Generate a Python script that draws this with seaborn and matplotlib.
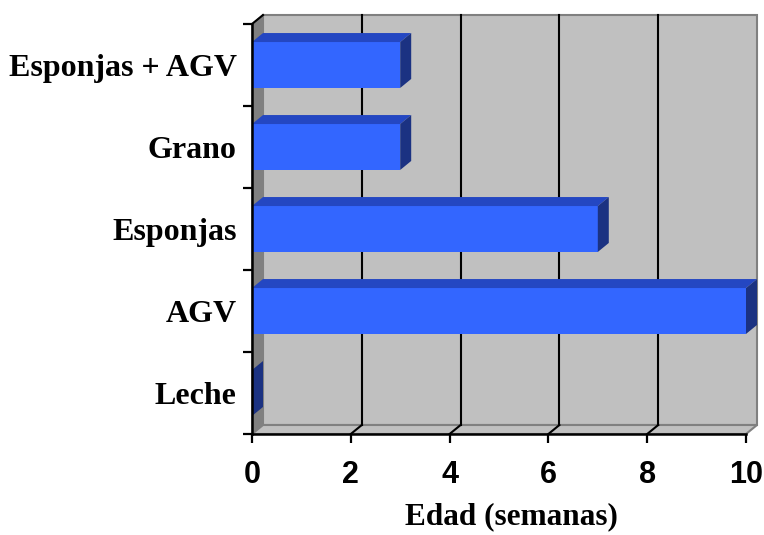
import pandas as pd
import matplotlib
matplotlib.use("Agg")
import matplotlib.pyplot as plt
from matplotlib.patches import Polygon
import seaborn as sns

# data (top to bottom as in the chart)
categories = ["Esponjas + AGV", "Grano", "Esponjas", "AGV", "Leche"]
semanas = [3, 3, 7, 10, 0]
x_ticks = [0, 2, 4, 6, 8, 10]

df = pd.DataFrame({"Alimento": categories, "Edad": semanas})

# colours of the pseudo 3D look
front_col = "#3366ff"
top_col = "#2447c2"
side_col = "#1b3282"
wall_col = "#c0c0c0"
left_wall_col = "#808080"
edge_col = "#808080"

fig = plt.figure(figsize=(7.64, 5.35), dpi=100)
W, H = 764, 535
ax_l, ax_r, ax_t, ax_b = 252, 746, 24, 434  # pixels of the front plane
ax = fig.add_axes([ax_l / W, (H - ax_b) / H, (ax_r - ax_l) / W, (ax_b - ax_t) / H])

sns.barplot(data=df, x="Edad", y="Alimento", orient="h", order=categories,
            color=front_col, saturation=1, width=0.56, ax=ax, zorder=5)

ax.set_xlim(0, 10)
ax.set_ylim(4.5, -0.5)
ax.patch.set_visible(False)

# depth offset of the back plane (11 px right, 9 px up) in data units
dx = 11 / ((ax_r - ax_l) / 10)
dy = 9 / ((ax_b - ax_t) / 5)
ymin, ymax = -0.5, 4.5

# back wall, left wall, floor
ax.add_patch(Polygon([(dx, ymin - dy), (10 + dx, ymin - dy), (10 + dx, ymax - dy), (dx, ymax - dy)],
                     closed=True, facecolor=wall_col, edgecolor=edge_col, lw=1.5, zorder=0.1, clip_on=False))
ax.add_patch(Polygon([(0, ymin), (dx, ymin - dy), (dx, ymax - dy), (0, ymax)],
                     closed=True, facecolor=left_wall_col, edgecolor=edge_col, lw=1, zorder=0.2, clip_on=False))
ax.add_patch(Polygon([(0, ymax), (10, ymax), (10 + dx, ymax - dy), (dx, ymax - dy)],
                     closed=True, facecolor=wall_col, edgecolor=edge_col, lw=1.5, zorder=0.2, clip_on=False))
ax.plot([0, dx], [ymin, ymin - dy], color="black", lw=1.5, zorder=0.4, clip_on=False)

# gridlines on the back wall and across the floor
for v in x_ticks[1:-1]:
    ax.plot([v + dx, v + dx], [ymax - dy, ymin - dy], color="black", lw=1.5, zorder=0.3, clip_on=False)
    ax.plot([v, v + dx], [ymax, ymax - dy], color="black", lw=1.5, zorder=0.3, clip_on=False)

# top and side faces of each bar
for p in list(ax.patches):
    if not hasattr(p, "get_width") or p.get_facecolor()[:3] != matplotlib.colors.to_rgb(front_col):
        continue
    x0, w, y0, h = p.get_x(), p.get_width(), p.get_y(), p.get_height()
    x1, y1 = x0 + w, y0 + h
    ax.add_patch(Polygon([(x0, y0), (x1, y0), (x1 + dx, y0 - dy), (x0 + dx, y0 - dy)],
                         closed=True, facecolor=top_col, edgecolor="none", zorder=5, clip_on=False))
    ax.add_patch(Polygon([(x1, y0), (x1, y1), (x1 + dx, y1 - dy), (x1 + dx, y0 - dy)],
                         closed=True, facecolor=side_col, edgecolor="none", zorder=5, clip_on=False))

# axes and ticks
for s in ["top", "right"]:
    ax.spines[s].set_visible(False)
for s in ["left", "bottom"]:
    ax.spines[s].set_color("black")
    ax.spines[s].set_linewidth(1.8)
    ax.spines[s].set_zorder(6)

ax.set_xticks(x_ticks)
ax.set_xticklabels([str(t) for t in x_ticks], fontfamily="Liberation Sans",
                   fontweight="bold", fontsize=22)
ax.tick_params(axis="x", direction="out", length=6.5, width=1.6, pad=12, colors="black")

ax.set_yticks(range(len(categories)))
ax.set_yticklabels(categories, fontfamily="Liberation Serif", fontweight="bold", fontsize=23)
ax.set_yticks([-0.5, 0.5, 1.5, 2.5, 3.5, 4.5], minor=True)
ax.tick_params(axis="y", which="major", length=0, pad=11)
ax.tick_params(axis="y", which="minor", direction="out", length=6.5, width=1.6, colors="black")

ax.set_ylabel("")
ax.set_xlabel("Edad (semanas)", fontfamily="Liberation Serif", fontweight="bold", fontsize=22.5)
ax.xaxis.set_label_coords((511 - ax_l) / (ax_r - ax_l), -(502 - ax_b) / (ax_b - ax_t))
ax.xaxis.label.set_verticalalignment("top")

fig.savefig("out.png", dpi=100)
